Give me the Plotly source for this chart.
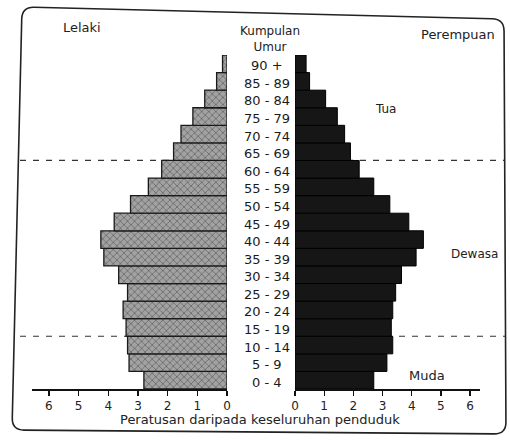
import plotly.graph_objects as go

# ---------------- data ----------------
age_groups = ["0 - 4", "5 - 9", "10 - 14", "15 - 19", "20 - 24", "25 - 29", "30 - 34",
              "35 - 39", "40 - 44", "45 - 49", "50 - 54", "55 - 59", "60 - 64",
              "65 - 69", "70 - 74", "75 - 79", "80 - 84", "85 - 89", "90 +"]
male = [2.8, 3.3, 3.35, 3.4, 3.5, 3.35, 3.65, 4.15, 4.25, 3.8, 3.25, 2.65, 2.2,
        1.8, 1.55, 1.15, 0.75, 0.35, 0.15]
female = [2.7, 3.15, 3.35, 3.3, 3.35, 3.45, 3.65, 4.15, 4.4, 3.9, 3.25, 2.7, 2.2,
          1.9, 1.7, 1.45, 1.05, 0.5, 0.38]
tick_values = [0, 1, 2, 3, 4, 5, 6]
tick_labels = ["0", "1", "2", "3", "4", "5", "6"]
group_boundaries = [2.5, 12.5]  # Muda | Dewasa | Tua

# ---------------- layout geometry ----------------
W, H = 510, 444
L, R, T, B = 32, 30, 55, 55
PW, PH = W - L - R, H - T - B
FONT = "DejaVu Sans"


def px_x(px):
    return (px - L) / PW


def px_y(py):
    return (H - B - py) / PH


fig = go.Figure()

fig.add_trace(go.Bar(
    y=age_groups, x=male, orientation="h", xaxis="x", yaxis="y", width=1.0,
    marker=dict(color="#9a9a9a",
                line=dict(color="#1a1a1a", width=1.3),
                pattern=dict(shape="x", size=5, solidity=0.25,
                             fgcolor="#5e5e5e", bgcolor="#a2a2a2",
                             fillmode="replace")),
    showlegend=False, hoverinfo="skip"))

fig.add_trace(go.Bar(
    y=age_groups, x=female, orientation="h", xaxis="x2", yaxis="y", width=1.0,
    marker=dict(color="#161616", line=dict(color="#000000", width=1)),
    showlegend=False, hoverinfo="skip"))

axis_common = dict(
    tickvals=tick_values, ticktext=tick_labels, ticks="outside", ticklen=5,
    tickwidth=1.2, tickcolor="#111", showline=True, linecolor="#111",
    linewidth=1.5, showgrid=False, zeroline=False, anchor="y",
    tickfont=dict(family=FONT, size=12, color="#222"), fixedrange=True)

fig.update_layout(
    width=W, height=H,
    margin=dict(l=L, r=R, t=T, b=B),
    paper_bgcolor="white", plot_bgcolor="rgba(0,0,0,0)",
    barmode="overlay", bargap=0,
    xaxis=dict(domain=[0, px_x(227)], range=[6.57, 0], **axis_common),
    xaxis2=dict(domain=[px_x(295), 1], range=[0, 6.34], **axis_common),
    yaxis=dict(type="category", categoryorder="array", categoryarray=age_groups,
               range=[-0.5, 18.5], visible=False, fixedrange=True),
    font=dict(family=FONT, color="#222"),
)

# dashed group separators (drawn below the bars)
for yb in group_boundaries:
    fig.add_shape(type="line", xref="paper", yref="y", x0=px_x(20), x1=px_x(227),
                  y0=yb, y1=yb, layer="below",
                  line=dict(color="#333", width=1.2, dash="6px,7px"))
    fig.add_shape(type="line", xref="paper", yref="y", x0=px_x(295), x1=px_x(505),
                  y0=yb, y1=yb, layer="below",
                  line=dict(color="#333", width=1.2, dash="6px,7px"))

# rounded frame around the figure
corners = [(22, 7), (504, 19), (506, 434), (12, 430)]
rad = 12


def toward(p, q, r):
    dx, dy = q[0] - p[0], q[1] - p[1]
    d = (dx * dx + dy * dy) ** 0.5
    return (p[0] + dx / d * r, p[1] + dy / d * r)


def P(pt):
    return f"{px_x(pt[0]):.5f},{px_y(pt[1]):.5f}"


n = len(corners)
pieces = []
for i in range(n):
    c = corners[i]
    a = toward(c, corners[i - 1], rad)
    b = toward(c, corners[(i + 1) % n], rad)
    pieces.append((a, c, b))
path = f"M {P(pieces[0][2])}"
for i in range(1, n + 1):
    a, c, b = pieces[i % n]
    path += f" L {P(a)} Q {P(c)} {P(b)}"
path += " Z"
fig.add_shape(type="path", xref="paper", yref="paper", path=path,
              line=dict(color="#222", width=1.6), layer="above")

# age group labels in the centre
for g in age_groups:
    fig.add_annotation(x=px_x(267), y=g, xref="paper", yref="y", text=g,
                       showarrow=False, yshift=-2,
                       font=dict(family=FONT, size=13, color="#1a1a1a"))

texts = [
    ("Lelaki", 82, 28, 13),
    ("Kumpulan<br>Umur", 270, 39, 12),
    ("Perempuan", 458, 35, 13),
    ("Tua", 385, 109, 12),
    ("Dewasa", 474, 254, 12),
    ("Muda", 427, 375, 13),
    ("Peratusan daripada keseluruhan penduduk", 260, 420, 13),
]
for t, x, y, s in texts:
    fig.add_annotation(x=px_x(x), y=px_y(y), xref="paper", yref="paper", text=t,
                       showarrow=False, xanchor="center", yanchor="middle",
                       font=dict(family=FONT, size=s, color="#222"))

fig.write_html("out.html",
               config={"displayModeBar": False, "staticPlot": True},
               post_script="document.body.style.margin='0px';"
                           "document.body.style.padding='0px';")
